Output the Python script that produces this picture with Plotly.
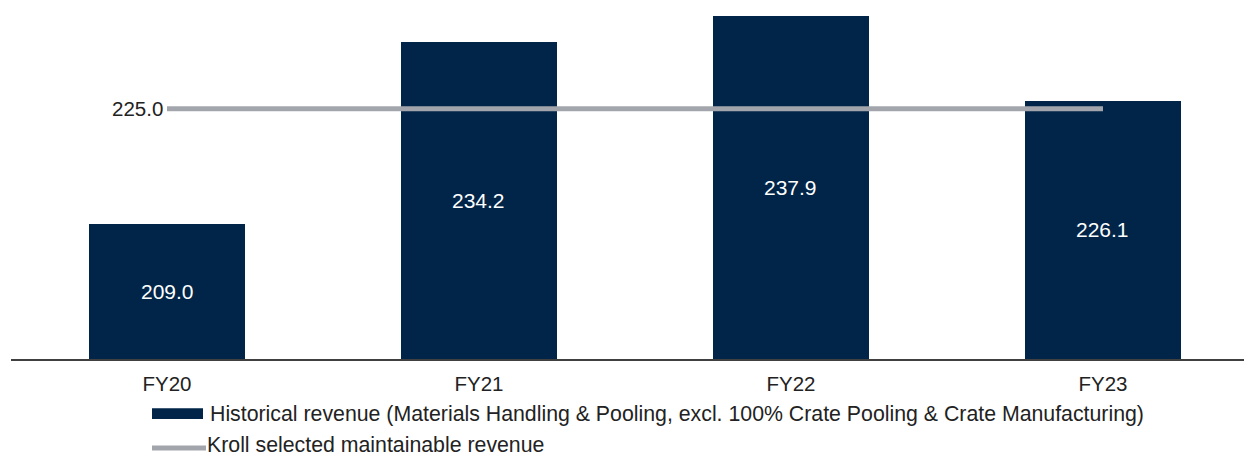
import plotly.graph_objects as go

categories = ["FY20", "FY21", "FY22", "FY23"]
historical_revenue = [209.0, 234.2, 237.9, 226.1]
maintainable_revenue = [225.0, 225.0, 225.0, 225.0]
legend_labels = [
    "Historical revenue (Materials Handling & Pooling, excl. 100% Crate Pooling & Crate Manufacturing)",
    "Kroll selected maintainable revenue",
]

NAVY = "#002548"
GREY = "#A2A6AC"
TXT = "#222222"
FONT = "Liberation Sans, Arial, sans-serif"

W, H = 1244, 455
ML, MR, MT, MB = 11, 0, 0, 96
PW, PH = W - ML - MR, H - MT - MB
YMIN, YMAX = 190.2, 240.1

xpos = list(range(len(categories)))

fig = go.Figure()
fig.add_trace(go.Bar(
    x=xpos, y=historical_revenue, width=0.5,
    marker=dict(color=NAVY, line=dict(width=0)),
    showlegend=False, hoverinfo="skip",
))
fig.add_trace(go.Scatter(
    x=xpos, y=maintainable_revenue, mode="lines",
    line=dict(color=GREY, width=5),
    showlegend=False, hoverinfo="skip",
))
# value labels centred in the visible part of each bar
for xi, v in zip(xpos, historical_revenue):
    fig.add_annotation(
        x=xi, y=(YMIN + v) / 2, xref="x", yref="y",
        text=f"{v:.1f}", showarrow=False, xanchor="center", yanchor="middle",
        font=dict(color="white", size=21, family=FONT),
    )
fig.add_annotation(
    x=xpos[0], y=maintainable_revenue[0], xref="x", yref="y",
    text=f"{maintainable_revenue[0]:.1f}", showarrow=False,
    xanchor="right", yanchor="middle", xshift=-2,
    font=dict(color=TXT, size=20.5, family=FONT),
)

def px_x(p):
    return (p - ML) / PW

def px_y(p):
    return (H - MB - p) / PH

# custom legend
leg_rows = [413.5, 445.5]
fig.add_shape(type="rect", xref="paper", yref="paper",
              x0=px_x(152), x1=px_x(203), y0=px_y(408.3), y1=px_y(419),
              fillcolor=NAVY, line=dict(width=0))
fig.add_shape(type="line", xref="paper", yref="paper",
              x0=px_x(152), x1=px_x(206), y0=px_y(448), y1=px_y(448),
              line=dict(color=GREY, width=5))
for row, label, xs in zip(leg_rows, legend_labels, [208, 205]):
    fig.add_annotation(
        x=px_x(xs), y=px_y(row), xref="paper", yref="paper",
        text=label, showarrow=False, xanchor="left", yanchor="middle",
        font=dict(color=TXT, size=21.3, family=FONT),
    )

fig.update_layout(
    width=W, height=H,
    margin=dict(l=ML, r=MR, t=MT, b=MB),
    plot_bgcolor="white", paper_bgcolor="white",
    font=dict(family=FONT, size=20.5, color=TXT),
    showlegend=False,
    xaxis=dict(
        range=[-0.5, 3.452], tickvals=xpos, ticktext=categories,
        showgrid=False, zeroline=False, showline=True,
        linecolor="#404040", linewidth=1.5,
        ticks="outside", ticklen=6, tickcolor="rgba(0,0,0,0)",
        tickfont=dict(size=20.5, family=FONT, color=TXT),
    ),
    yaxis=dict(
        range=[YMIN, YMAX], visible=False, showgrid=False, zeroline=False,
    ),
    bargap=0,
)

fig.write_html("out.html")
